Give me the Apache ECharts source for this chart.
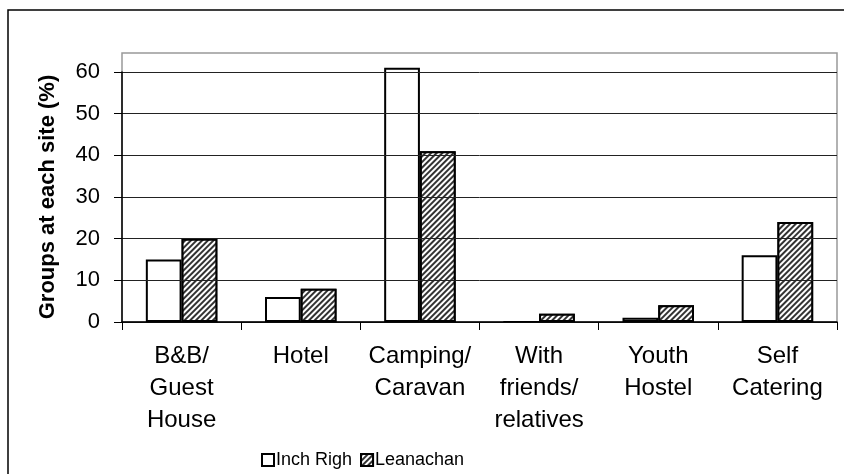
<!DOCTYPE html>
<html>
<head>
<meta charset="utf-8">
<script src="https://cdn.jsdelivr.net/npm/echarts@6/dist/echarts.min.js"></script>
<style>
 html,body{margin:0;padding:0;background:#fff;}
 #main{width:844px;height:474px;}
</style>
</head>
<body>
<div id="main"></div>
<script>
 var categories = ['B&B/\nGuest\nHouse', 'Hotel', 'Camping/\nCaravan', 'With\nfriends/\nrelatives', 'Youth\nHostel', 'Self\nCatering'];
 var inchRigh = [15, 6, 61, 0, 1, 16];
 var leanachan = [20, 8, 41, 2, 4, 24];
 var seriesNames = ['Inch Righ', 'Leanachan'];

 var font = 'Liberation Sans, Arial, sans-serif';
 var myChart = echarts.init(document.getElementById('main'));

 myChart.setOption({
	 animation: false,
	 backgroundColor: '#fff',
	 graphic: [{
		 //外框
		 type: 'rect',
		 shape: {x: 8, y: 10, width: 900, height: 520},
		 style: {fill: null, stroke: '#000', lineWidth: 1.5},
		 z: -1
	 }, {
		 //绘图区边框 (灰色)
		 type: 'rect',
		 shape: {x: 122, y: 53, width: 715, height: 269},
		 style: {fill: null, stroke: '#999', lineWidth: 1.5},
		 z: 0
	 }],
	 grid: {
		 left: 122, right: 7, top: 72, bottom: 152,
		 containLabel: false, outerBoundsMode: 'none'
	 },
	 legend: {
		 data: seriesNames,
		 left: 256, top: 446,
		 itemWidth: 12, itemHeight: 12, itemGap: 8,
		 icon: 'rect',
		 textStyle: {fontFamily: font, fontSize: 18, color: '#000', padding: [0, 0, 0, -3]}
	 },
	 xAxis: {
		 type: 'category',
		 data: categories,
		 z: 5,
		 axisLine: {lineStyle: {color: '#000', width: 1.5}},
		 axisTick: {show: true, length: 8, lineStyle: {color: '#000'}},
		 axisLabel: {
			 interval: 0, margin: 18, color: '#000',
			 fontFamily: font, fontSize: 24, lineHeight: 32, align: 'center'
		 }
	 },
	 yAxis: {
		 type: 'value',
		 min: 0, max: 60, interval: 10,
		 name: 'Groups at each site (%)',
		 nameLocation: 'middle', nameGap: 63,
		 nameTextStyle: {fontFamily: font, fontSize: 22, fontWeight: 'bold', color: '#000'},
		 z: 5,
		 axisLine: {show: true, lineStyle: {color: '#000', width: 1.5}},
		 axisTick: {show: true, length: 8, lineStyle: {color: '#000'}},
		 axisLabel: {color: '#000', fontFamily: font, fontSize: 22, margin: 22},
		 splitLine: {show: true, lineStyle: {color: '#222', width: 1}}
	 },
	 series: [{
		 name: seriesNames[0],
		 type: 'bar',
		 data: inchRigh,
		 clip: false,
		 barGap: '0%', barCategoryGap: '40%',
		 itemStyle: {color: '#fff', borderColor: '#000', borderWidth: 2}
	 }, {
		 name: seriesNames[1],
		 type: 'bar',
		 data: leanachan,
		 clip: false,
		 itemStyle: {
			 color: '#fff', borderColor: '#000', borderWidth: 2,
			 decal: {
				 symbol: 'rect', symbolSize: 1,
				 dashArrayX: [1, 0], dashArrayY: [1.5, 2],
				 rotation: -Math.PI / 4,
				 color: '#333', backgroundColor: '#fff'
			 }
		 }
	 }]
 });
</script>
</body>
</html>
